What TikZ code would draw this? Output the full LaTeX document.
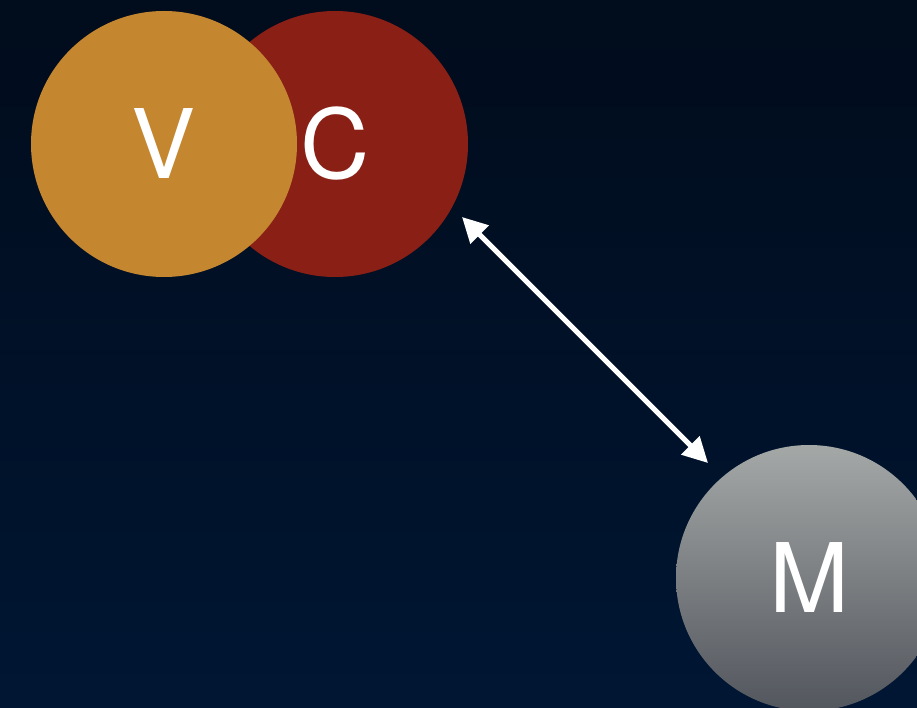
\documentclass[tikz,border=0pt]{standalone}
\usepackage{fontspec}
\setmainfont{TeX Gyre Heros}
\usetikzlibrary{arrows.meta}
\definecolor{bgtop}{HTML}{010C1C}
\definecolor{bgbot}{HTML}{001633}
\definecolor{vcol}{HTML}{C4862F}
\definecolor{ccol}{HTML}{8A1F15}
\definecolor{mtop}{HTML}{A4A8A7}
\definecolor{mbot}{HTML}{52565D}
\tikzset{
  ball/.style={circle, minimum size=266pt, inner sep=0pt, text=white, font=\fontsize{96}{100}\selectfont},
  link/.style={white, line width=5pt, {Triangle[length=25pt,width=25pt]}-{Triangle[length=25pt,width=25pt]}}
}
\begin{document}
\begin{tikzpicture}[x=1pt,y=-1pt]
\useasboundingbox (0,0) rectangle (917,708);
\shade[top color=bgtop, bottom color=bgbot] (0,0) rectangle (917,708);
\node[ball, fill=ccol] (C) at (335,144) {C};
\node[ball, fill=vcol] (V) at (164,144) {V};
\node[ball, top color=mtop, bottom color=mbot] (M) at (809,578) {M};
\coordinate (a1) at (462,217);
\coordinate (a2) at (708,463);
\draw[link] (a1) -- (a2);
\end{tikzpicture}
\end{document}
